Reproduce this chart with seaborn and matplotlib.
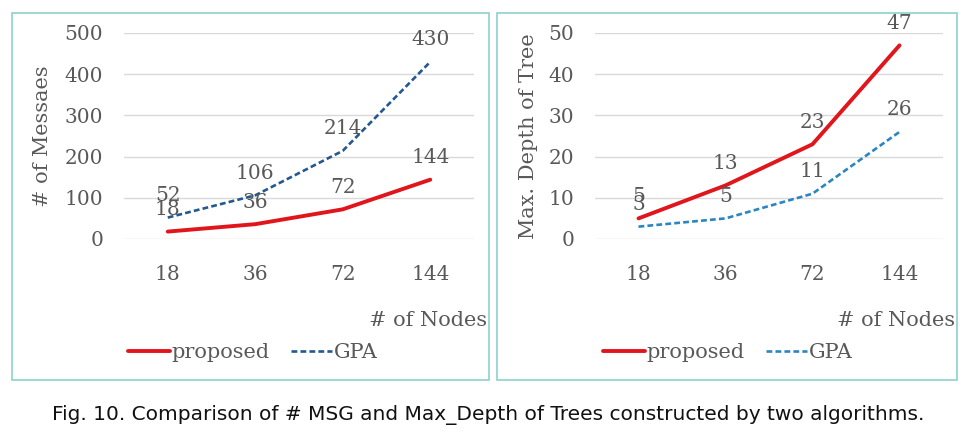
import matplotlib
matplotlib.use("Agg")
import matplotlib.pyplot as plt
import seaborn as sns
import pandas as pd
from matplotlib.patches import Rectangle

nodes = ["18", "36", "72", "144"]
msg_proposed = [18, 36, 72, 144]
msg_gpa = [52, 106, 214, 430]
depth_proposed = [5, 13, 23, 47]
depth_gpa = [3, 5, 11, 26]
series_names = ["proposed", "GPA"]
msg_ticks = [0, 100, 200, 300, 400, 500]
depth_ticks = [0, 10, 20, 30, 40, 50]

sns.set_theme(style="white")
plt.rcParams["font.family"] = ["DejaVu Serif"]

TEXT = "#595959"
GRID = "#d9d9d9"
BORDER = "#8ed2cc"
RED = "#e0161c"
FS_TICK = 14.5
FS_LAB = 15

fig = plt.figure(figsize=(9.77, 4.34), dpi=100)

# panel borders
for x0, x1 in [(12, 489), (497, 957)]:
    fig.patches.append(Rectangle((x0 / 977, 1 - 380 / 434), (x1 - x0) / 977, 367 / 434,
                                 transform=fig.transFigure, fill=False,
                                 edgecolor=BORDER, linewidth=1.2))

def make_panel(rect, prop, gpa, ticks, ylabel, blue, ylab_x, nodes_x, leg_x):
    ax = fig.add_axes(rect)
    df = pd.DataFrame({
        "nodes": nodes * 2,
        "value": prop + gpa,
        "series": [series_names[0]] * len(nodes) + [series_names[1]] * len(nodes),
    })
    sns.lineplot(data=df, x="nodes", y="value", hue="series", style="series",
                 palette={"proposed": RED, "GPA": blue},
                 dashes={"proposed": "", "GPA": (2.2, 1.2)},
                 ax=ax, legend=False, sort=False)
    lines = ax.get_lines()
    lines[0].set_linewidth(2.8)
    lines[1].set_linewidth(1.9)
    ax.set_xlim(-0.5, 3.5)
    ax.set_ylim(ticks[0], ticks[-1])
    ax.set_yticks(ticks)
    ax.set_yticklabels([str(t) for t in ticks])
    ax.grid(axis="y", color=GRID, linewidth=1)
    ax.grid(axis="x", visible=False)
    for s in ax.spines.values():
        s.set_visible(False)
    ax.tick_params(axis="y", length=0, pad=15, labelsize=FS_TICK, labelcolor=TEXT)
    ax.tick_params(axis="x", length=0, pad=19, labelsize=FS_TICK, labelcolor=TEXT)
    ax.set_xlabel("")
    ax.set_ylabel("")
    fig.text(ylab_x / 977, 1 - 136 / 434, ylabel, rotation=90, ha="center", va="center",
             fontsize=FS_LAB, color=TEXT)
    for i, v in enumerate(gpa):
        ax.annotate(str(v), (i, v), xytext=(0, 9), textcoords="offset points",
                    ha="center", va="bottom", fontsize=FS_TICK, color=TEXT)
    for i, v in enumerate(prop):
        ax.annotate(str(v), (i, v), xytext=(0, 9), textcoords="offset points",
                    ha="center", va="bottom", fontsize=FS_TICK, color=TEXT)
    fig.text(nodes_x / 977, 1 - 320 / 434, "# of Nodes", ha="right", va="center",
             fontsize=FS_LAB, color=TEXT)
    handles = [plt.Line2D([], [], color=RED, lw=2.8),
               plt.Line2D([], [], color=blue, lw=1.9, dashes=(2.2, 1.2))]
    fig.legend(handles, series_names, loc="center", ncol=2, frameon=False,
               bbox_to_anchor=(leg_x / 977, 1 - 353 / 434), fontsize=FS_LAB,
               handlelength=2.0, handletextpad=0.1, columnspacing=1.0,
               labelcolor=TEXT)
    return ax

make_panel([124 / 977, 1 - 239 / 434, 350 / 977, 206 / 434],
           msg_proposed, msg_gpa, msg_ticks, "# of Messaes", "#24598f", 43, 487, 253)
make_panel([595 / 977, 1 - 239 / 434, 348 / 977, 206 / 434],
           depth_proposed, depth_gpa, depth_ticks, "Max. Depth of Tree", "#2a86c0", 528, 955, 728)

fig.text(0.5, 1 - 415 / 434,
         "Fig. 10. Comparison of # MSG and Max_Depth of Trees constructed by two algorithms.",
         ha="center", va="center", fontsize=14.5, family=["DejaVu Sans"], color="#111111")

fig.savefig("out.png", dpi=100, facecolor="white")
